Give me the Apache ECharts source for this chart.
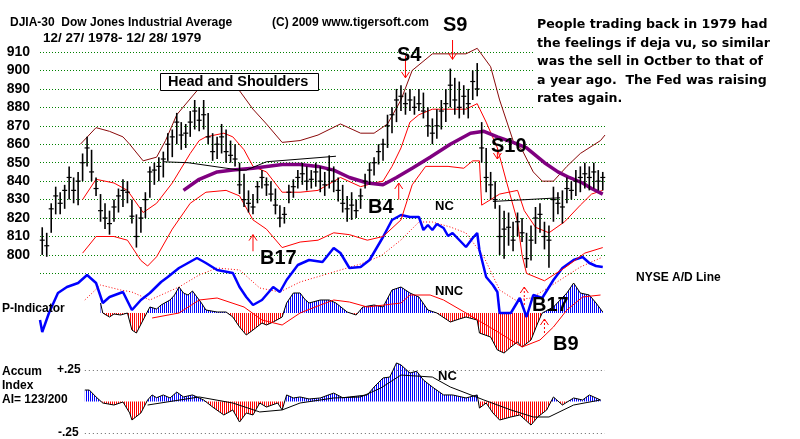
<!DOCTYPE html>
<html>
<head>
<meta charset="utf-8">
<title>DJIA-30 1979</title>
<script src="https://cdn.jsdelivr.net/npm/echarts@6/dist/echarts.min.js"></script>
<style>
html, body { margin: 0; padding: 0; background: #fff; }
#main { width: 800px; height: 439px; }
</style>
</head>
<body>
<div id="main"></div>
<script>
// price bars, one every 2 trading days (day = 1 + 2*i)
var barHigh = [815,812,828,837,834,838,848,842,845,855, 864,857,842,833,828,824,830,836,841,840,
  830,822,826,834,848,850,853,856,866,868, 877,872,871,878,884,880,884,877,866,864,
  871,868,862,860,850,844,835,833,840,846, 842,840,836,827,826,838,841,846,850,848,
  846,850,848,845,854,848,842,838,832,834, 830,836,844,850,853,860,863,876,880,890,
  892,888,890,886,890,888,880,874,879,884, 890,901,896,894,892,890,900,904,872,858,
  845,840,827,824,823,818,823,820,812,816, 826,828,818,816,837,834,835,842,840,846,
  848,850,848,850,846,845];
var barLow = [800,799,812,822,822,825,830,828,827,840, 848,840,832,818,814,811,818,823,826,828,
  817,804,812,820,831,838,840,842,851,853, 860,857,858,864,868,867,868,860,851,852,
  855,850,850,848,833,826,823,822,828,836, 832,829,822,815,817,828,831,836,838,835,
  836,837,834,832,836,834,829,823,818,819, 820,825,836,838,843,849,851,858,866,872,
  878,876,878,876,878,874,864,860,863,868, 872,880,876,874,876,874,884,886,850,834,
  830,825,800,798,805,802,810,807,793,797, 806,812,803,793,818,822,817,828,830,832,
  834,836,835,836,835,835];
var barClose = [808,805,825,832,828,835,842,835,840,850, 858,845,836,824,820,817,826,832,835,834,
  821,810,820,830,845,846,848,852,860,864, 872,865,866,872,878,873,876,864,856,860,
  864,856,854,852,838,830,828,826,837,842, 838,833,827,820,822,834,837,842,844,840,
  841,845,840,838,846,840,835,828,825,827, 824,832,840,846,850,856,860,870,876,884,
  886,882,884,880,882,878,870,866,870,878, 882,892,884,880,886,882,894,890,858,842,
  838,830,810,814,815,808,818,812,798,808, 820,822,810,808,830,828,826,836,835,840,
  842,844,842,845,840,842];

// bands and averages: [trading day, level]
var upperBand = [[18,860],[25,869],[31,867],[37,864],[40,860],[46,851],[52,853],[56,862],[61,876],[70,889],
  [76,895],[83,895],[89,889],[95,879],[101,871],[108,861],[116,862],[124,865],[134,871],[143,866],
  [149,866],[155,871],[161,884],[166,900],[175,909],[190,909],[195,912],[201,902],[205,884],[211,862],
  [215,857],[220,845],[224,840],[229,840],[235,848],[241,855],[250,862],[252,865]];
var midBand = [[19,830],[25,841],[33,839],[39,835],[46,823],[52,828],[59,839],[67,855],[71,862],[74,864],
  [82,866],[86,864],[91,857],[95,848],[101,845],[108,834],[116,834],[124,835],[134,842],[143,837],
  [149,839],[153,840],[157,848],[161,858],[165,872],[169,876],[175,879],[190,879],[195,882],[199,872],
  [204,858],[208,840],[213,818],[215,800],[217,790],[225,786],[234,793],[243,801],[251,804]];
var lowBand = [[19,801],[25,810],[33,810],[39,808],[45,797],[48,794],[52,799],[59,814],[67,828],[74,834],
  [83,835],[89,832],[95,819],[101,814],[108,804],[116,807],[124,808],[131,812],[138,811],[146,808],
  [153,810],[161,819],[166,838],[172,848],[182,848],[189,847],[193,851],[196,851],[197,827],[205,833],
  [213,835],[216,824],[221,815],[227,812],[234,818],[241,827],[246,833],[251,835]];
var longAvg = [[64,835],[71,841],[79,845],[86,846],[95,847],[108,849],[116,849],[124,848],[131,846],[138,842],
  [146,839],[153,838],[159,842],[166,847],[174,853],[183,860],[192,866],[198,867],[204,864],[211,861],
  [217,858],[225,850],[231,845],[236,842],[242,839],[246,836],[251,833]];
var trendLine1 = [[55,850.5],[66,850],[89,846],[92,846],[101,850.5],[132,853.5]];
var trendLine2 = [[202,829],[232,831]];

// NYSE A/D line (relative level) and its average
var adLine = [[0,20],[1,8],[4,27],[8,47],[12,53],[17,57],[21,65],[25,57],[28,37],[31,43],
  [37,48],[41,30],[45,40],[49,47],[54,58],[57,63],[62,72],[70,82],[74,77],[79,70],
  [86,67],[89,53],[92,43],[95,35],[99,40],[104,53],[107,48],[110,60],[115,75],[120,80],
  [126,78],[131,92],[134,87],[138,72],[143,73],[147,80],[153,103],[157,120],[161,125],[165,123],
  [169,123],[171,110],[173,115],[175,110],[177,116],[180,112],[182,104],[184,107],[187,100],[190,93],
  [193,102],[195,107],[196,90],[199,63],[202,55],[204,48],[205,27],[210,27],[214,42],[217,23],
  [220,45],[224,42],[229,60],[233,72],[238,80],[242,83],[245,77],[248,74],[251,73]];
var adAvg = [[20,40],[27,55],[36,50],[41,48],[49,40],[56,47],[62,53],[71,65],[79,72],[89,70],
  [98,52],[107,48],[116,58],[125,64],[134,70],[143,76],[152,84],[161,100],[169,118],[175,118],
  [183,113],[190,107],[198,83],[205,50],[212,40],[219,42],[225,50],[232,60],[241,73],[250,82]];

// P-Indicator and its average
var pInd = [[27,10],[28,0],[31,-4],[33,-1],[36,-2],[39,0],[41,-17],[43,-20],[46,-7],[49,6],
  [52,4],[54,8],[58,13],[60,18],[62,26],[64,20],[66,18],[68,22],[70,16],[72,10],
  [74,3],[79,1],[83,1],[86,-4],[89,-14],[92,-22],[95,-17],[99,-10],[101,-12],[104,-9],
  [108,-4],[110,10],[113,20],[116,20],[118,14],[120,10],[125,13],[129,13],[132,10],[137,1],
  [141,-2],[144,6],[149,8],[153,6],[157,23],[161,26],[165,20],[169,16],[173,3],[177,0],
  [183,-9],[187,-6],[190,-4],[195,-7],[196,-20],[201,-24],[204,-37],[207,-40],[210,-34],[213,-29],
  [215,-34],[219,-27],[222,-10],[224,0],[229,6],[235,20],[238,30],[241,20],[245,18],[248,10],[251,1]];
var pIndAvg = [[50,-5],[62,0],[71,13],[79,15],[91,6],[99,-7],[108,-12],[116,0],[125,8],[131,13],
  [138,11],[146,6],[161,10],[165,18],[174,18],[180,13],[190,0],[205,-20],[215,-34],[223,-27],
  [229,-14],[235,3],[242,16],[250,18]];

// Accumulation Index and its average
var accum = [[20,0.091],[22,0.091],[25,0.036],[28,-0.012],[33,-0.028],[37,-0.004],[40,-0.091],[41,-0.147],[45,-0.091],[48,0.012],
  [50,0.052],[52,0.030],[55,0.052],[58,0.028],[61,0.075],[64,0.036],[68,0.052],[73,0.012],[77,-0.044],[82,-0.107],
  [86,-0.067],[89,-0.163],[92,-0.091],[95,-0.107],[98,-0.012],[101,-0.044],[106,-0.012],[108,-0.067],[110,0.052],[113,0.028],
  [116,0.036],[120,0.020],[125,0.028],[131,0.067],[135,0.030],[138,0.036],[146,0.052],[149,0.115],[153,0.187],[156,0.194],
  [159,0.306],[161,0.29],[165,0.226],[168,0.240],[171,0.171],[175,0.115],[180,0.052],[184,0.052],[190,0.028],[195,0.052],
  [196,-0.052],[199,-0.012],[202,-0.091],[205,-0.147],[210,-0.123],[214,-0.107],[219,-0.187],[222,-0.123],[226,-0.067],[229,0.036],
  [233,-0.028],[238,0.028],[242,0.012],[245,0.052],[250,0.012]];
var accumAvg = [[48,-0.028],[71,0.036],[86,-0.012],[98,-0.083],[108,-0.067],[116,-0.012],[131,0.028],[143,0.036],[152,0.107],[161,0.21],
  [175,0.194],[183,0.115],[198,0.012],[210,-0.067],[220,-0.123],[227,-0.123],[238,-0.028],[250,0.012]];

// signal arrows: [day, tail level, head level]
var priceArrows = [[163,908,896],[184,916.5,906],[204,857,852],[95,802,811],[160,830,839]];
var pIndArrows = [[216,8,26],[225,-20,-6]];

var priceTicks = [790,800,810,820,830,840,850,860,870,880,890,900,910];

var chart = echarts.init(document.getElementById('main'));

function stripes(color) {
  var c = document.createElement('canvas');
  c.width = 2; c.height = 4;
  var g = c.getContext('2d');
  g.fillStyle = color;
  g.fillRect(0, 0, 1, 4);
  return { image: c, repeat: 'repeat' };
}
var blueFill = stripes('#0000ff');
var redFill = stripes('#ff0000');

function histRender(pts) {
  return function (params, api) {
    var i = params.dataIndex;
    if (i >= pts.length - 1) return null;
    var a = pts[i], b = pts[i + 1];
    function poly(p, q) {
      var fill = (p[1] + q[1] >= 0) ? blueFill : redFill;
      return {
        type: 'polygon',
        shape: { points: [api.coord([p[0], 0]), api.coord(p), api.coord(q), api.coord([q[0], 0])] },
        style: { fill: fill }
      };
    }
    var kids = [];
    if ((a[1] >= 0) === (b[1] >= 0)) {
      kids.push(poly(a, b));
    } else {
      var t = a[1] / (a[1] - b[1]);
      var z = [a[0] + (b[0] - a[0]) * t, 0];
      kids.push(poly(a, z));
      kids.push(poly(z, b));
    }
    return { type: 'group', children: kids };
  };
}

// thin red arrow: shaft plus two short strokes at the head
function arrowSeries(list, xi, dash) {
  return {
    type: 'custom', xAxisIndex: xi, yAxisIndex: xi, z: 8, silent: true,
    data: list, encode: { x: 0, y: [1, 2] },
    renderItem: function (params, api) {
      var tail = api.coord([api.value(0), api.value(1)]);
      var head = api.coord([api.value(0), api.value(2)]);
      var dir = head[1] > tail[1] ? -1 : 1;
      return { type: 'group', children: [
        { type: 'line', shape: { x1: tail[0], y1: tail[1], x2: head[0], y2: head[1] },
          style: { stroke: '#ff0000', fill: 'none', lineWidth: 1, lineDash: dash ? [2, 2] : null } },
        { type: 'line', shape: { x1: head[0] - 4, y1: head[1] + dir * 6, x2: head[0], y2: head[1] },
          style: { stroke: '#ff0000', fill: 'none', lineWidth: 1 } },
        { type: 'line', shape: { x1: head[0] + 4, y1: head[1] + dir * 6, x2: head[0], y2: head[1] },
          style: { stroke: '#ff0000', fill: 'none', lineWidth: 1 } }
      ] };
    }
  };
}

function lineSeries(data, xi, color, width, type, z) {
  return {
    type: 'line', xAxisIndex: xi, yAxisIndex: xi, data: data,
    symbol: 'none', clip: false, silent: true, z: z || 2,
    lineStyle: { color: color, width: width, type: type || 'solid' }
  };
}

var sans = '"Liberation Sans", Arial, sans-serif';
var boldFont = 'bold 12px ' + sans;
function txt(x, y, s, font, color) {
  return {
    type: 'text', x: x, y: y, z: 101,
    style: { text: s, font: font || boldFont, fill: color || '#000',
      textAlign: 'left', textVerticalAlign: 'middle', align: 'left', verticalAlign: 'middle' }
  };
}
var bigFont = 'bold 20px ' + sans;
var midFont = 'bold 13px ' + sans;
var headFont = 'bold 12px ' + sans;
var dateFont = 'bold 13.5px ' + sans;
var noteFont = 'bold 12.6px "DejaVu Sans", sans-serif';

var grids = [
  { left: 40, top: 52, width: 565, height: 221.4 },
  { left: 40, top: 200, width: 565, height: 140 },
  { left: 40, top: 273, width: 565, height: 80 },
  { left: 40, top: 370, width: 565, height: 63 }
];

var option = {
  animation: false,
  backgroundColor: '#fff',
  grid: grids,
  xAxis: grids.map(function (g, i) {
    return { type: 'value', gridIndex: i, min: 0, max: 252, show: false };
  }),
  yAxis: [
    { type: 'value', gridIndex: 0, min: 790, max: 910, interval: 10,
      axisLine: { show: false }, axisTick: { show: false },
      axisLabel: { margin: 10, color: '#000', fontWeight: 'bold', fontSize: 14, fontFamily: sans,
        formatter: function (v) { return priceTicks.indexOf(v) > 0 ? String(v) : ''; } },
      splitLine: { lineStyle: { color: '#008000', type: [1, 2], width: 1 } } },
    { type: 'value', gridIndex: 1, min: 0, max: 140, show: false, splitLine: { show: false } },
    { type: 'value', gridIndex: 2, min: -40, max: 40, show: false, splitLine: { show: false } },
    { type: 'value', gridIndex: 3, min: -0.25, max: 0.25, show: false, splitLine: { show: false } }
  ],
  series: [
    // A/D line panel
    lineSeries(adAvg, 1, '#ff0000', 1, [1, 2], 2),
    lineSeries(adLine, 1, '#0000ff', 2.5, 'solid', 3),
    // price panel
    lineSeries(upperBand, 0, '#8b0a0a', 1, 'solid', 4),
    lineSeries(midBand, 0, '#ff0000', 1, 'solid', 4),
    lineSeries(lowBand, 0, '#ff0000', 1, 'solid', 4),
    lineSeries(longAvg, 0, '#800080', 3.5, 'solid', 5),
    lineSeries(trendLine1, 0, '#000', 1, 'solid', 5),
    lineSeries(trendLine2, 0, '#000', 1, 'solid', 5),
    {
      type: 'custom', xAxisIndex: 0, yAxisIndex: 0, z: 6, silent: true,
      data: barHigh.map(function (h, i) { return [1 + 2 * i, h, barLow[i], barClose[i]]; }),
      encode: { x: 0, y: [1, 2] },
      renderItem: function (params, api) {
        var d = api.value(0);
        var top = api.coord([d, api.value(1)]);
        var bot = api.coord([d, api.value(2)]);
        var c = api.coord([d, api.value(3)]);
        return { type: 'group', children: [
          { type: 'line', shape: { x1: top[0], y1: top[1], x2: bot[0], y2: bot[1] }, style: { stroke: '#000', lineWidth: 1.6 } },
          { type: 'line', shape: { x1: c[0] - 2.5, y1: c[1], x2: c[0] + 2.5, y2: c[1] }, style: { stroke: '#000', lineWidth: 1.2 } }
        ] };
      }
    },
    arrowSeries(priceArrows, 0, false),
    // P-Indicator panel
    {
      type: 'custom', xAxisIndex: 2, yAxisIndex: 2, z: 2, silent: true,
      data: pInd, encode: { x: 0, y: 1 }, renderItem: histRender(pInd)
    },
    lineSeries(pInd, 2, '#000', 1, 'solid', 3),
    lineSeries(pIndAvg, 2, '#ff0000', 1, 'solid', 3),
    arrowSeries(pIndArrows, 2, true),
    // Accumulation index panel
    {
      type: 'custom', xAxisIndex: 3, yAxisIndex: 3, z: 2, silent: true,
      data: accum, encode: { x: 0, y: 1 }, renderItem: histRender(accum)
    },
    {
      type: 'line', xAxisIndex: 3, yAxisIndex: 3, data: accum, symbol: 'none', clip: false, z: 3,
      lineStyle: { color: '#000', width: 1 },
      markLine: {
        silent: true, symbol: 'none', label: { show: false },
        lineStyle: { color: '#666', type: [1, 3], width: 1 },
        data: [
          [{ coord: [20, 0.25] }, { coord: [252, 0.25] }],
          [{ coord: [20, -0.25] }, { coord: [252, -0.25] }]
        ]
      }
    },
    lineSeries(accumAvg, 3, '#000', 1, 'solid', 3)
  ],
  graphic: [
    { type: 'rect', z: 100, shape: { x: 533, y: 8, width: 267, height: 100 }, style: { fill: '#fff' } },
    { type: 'rect', z: 100, shape: { x: 160.5, y: 73.5, width: 158, height: 17 }, style: { fill: '#fff', stroke: '#000', lineWidth: 1 } },
    txt(168, 82, 'Head and Shoulders', 'bold 14.5px ' + sans),
    txt(10, 23, 'DJIA-30  Dow Jones Industrial Average', headFont),
    txt(43, 38, '12/ 27/ 1978- 12/ 28/ 1979', dateFont),
    txt(272, 23, '(C) 2009 www.tigersoft.com', headFont),
    txt(537, 25, 'People trading back in 1979 had', noteFont),
    txt(537, 44, 'the feelings if deja vu, so similar', noteFont),
    txt(537, 62, 'was the sell in Octber to that of', noteFont),
    txt(537, 81, 'a year ago.  The Fed was raising', noteFont),
    txt(537, 99, 'rates again.', noteFont),
    txt(443, 25, 'S9', bigFont),
    txt(397, 55, 'S4', bigFont),
    txt(491, 146, 'S10', bigFont),
    txt(368, 207, 'B4', bigFont),
    txt(435, 206, 'NC', midFont),
    txt(260, 258, 'B17', bigFont),
    txt(636, 278, 'NYSE A/D Line', boldFont),
    txt(435, 291, 'NNC', midFont),
    txt(2, 309, 'P-Indicator', boldFont),
    txt(532, 305, 'B17', bigFont),
    txt(553, 344, 'B9', bigFont),
    txt(2, 372, 'Accum', boldFont),
    txt(2, 386, 'Index', boldFont),
    txt(2, 400, 'AI= 123/200', boldFont),
    txt(57, 370, '+.25', boldFont),
    txt(58, 433, '-.25', boldFont),
    txt(438, 376, 'NC', midFont)
  ]
};

chart.setOption(option);
</script>
</body>
</html>
